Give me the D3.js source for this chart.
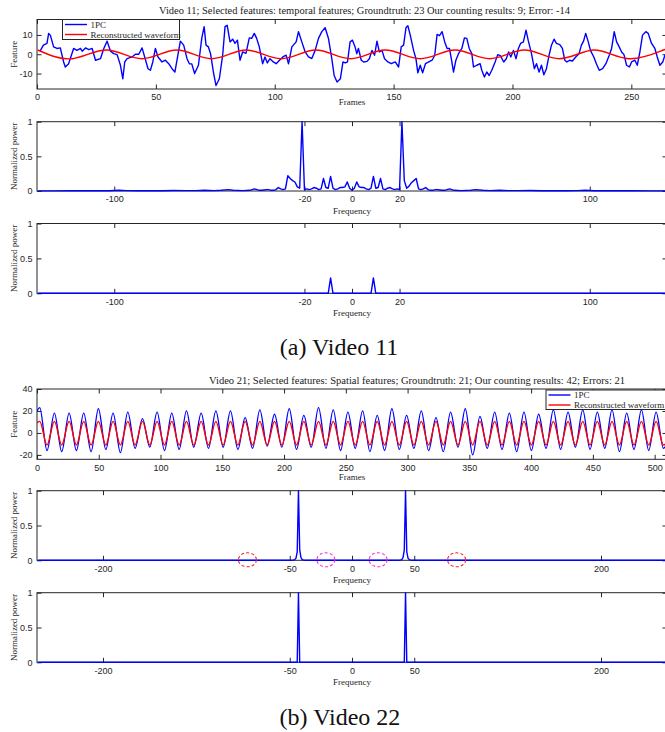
<!DOCTYPE html>
<html>
<head>
<meta charset="utf-8">
<script src="https://cdn.jsdelivr.net/npm/d3@7"></script>
<style>
  body { margin: 0; background: #fff; }
  svg { display: block; font-family: "Liberation Serif", "Times New Roman", serif; }
  .tick text { fill: #262626; font-size: 9px; }
  .tick line { stroke: #262626; }
</style>
</head>
<body>
<script>
// ---------- Video 11 : first principal component (frame, value) ----------
const v11Frames = [1.3, 2.7, 4.2, 4.9, 5.6, 7, 8.4, 9.8, 11.2, 11.9, 13.3, 15.4, 16.8, 18.3, 19, 20.4, 21.8, 23.2, 24.6, 26.7,
  28.1, 29.5, 30.9, 32.3, 33.7, 35.1, 36.1, 36.9, 37.9, 40, 41.4, 42.8, 44.2, 45.3, 46.7, 47.7, 48.7, 49.8, 50.9, 52.6,
  54, 55.4, 56.8, 58, 59, 60.3, 61.7, 63.1, 64.1, 65.1, 66.3, 67.9, 69.3, 70.3, 71.1, 72.1, 73, 74.2, 75.3, 76.7,
  78.1, 79.1, 80, 81.2, 82.3, 83.3, 84.3, 85.4, 86.5, 87.9, 89.3, 90.3, 91.4, 92.4, 93.5, 94.9, 95.9, 96.9, 98, 99.4,
  100.6, 102, 103.4, 104.8, 105.8, 107.2, 109, 110, 111.4, 112.8, 114.2, 115.6, 117, 118.4, 119.8, 121.2, 122.6, 124, 125, 126.2,
  127.6, 128.7, 129.7, 130.6, 131.7, 132.7, 133.8, 134.5, 135.2, 136.4, 137.4, 138.8, 139.8, 140.9, 142, 143, 144, 145.1, 146.2, 147.6,
  149, 150.7, 152.1, 153.2, 154.2, 155.2, 156, 157, 158.4, 159.4, 160.2, 161.2, 162.2, 163.4, 164.8, 166.2, 167.3, 168.3, 169.3, 170.4,
  171.5, 172.5, 173.5, 174.5, 175.2, 176.2, 177.3, 178.7, 179.8, 180.8, 181.8, 182.9, 183.6, 185, 186.4, 187.1, 188.2, 189.2, 190.2, 191.3,
  192.7, 193.8, 194.9, 196.3, 197.4, 198.4, 199.3, 200.4, 201.5, 202.5, 203.4, 204.6, 205.7, 206.6, 208, 209.2, 210.1, 211.2, 212.2, 213.2,
  214.3, 215.4, 216.4, 217.5, 218.5, 219.9, 221, 222, 222.9, 224.1, 225.2, 226.6, 228, 229, 229.9, 230.8, 231.8, 232.8, 234.2, 235.3,
  236.5, 237.9, 239.3, 240.7, 241.7, 242.8, 243.8, 244.9, 245.9, 246.9, 248, 249.2, 250.1, 251.5, 252.5, 253.6, 254.7, 256.1, 257.1, 258.5,
  259.9, 260.9, 262, 263.2, 264.2, 265];
const v11Pc = [1.6, 4.7, 5.6, 10.8, 9.9, 3.8, 3, 3.3, -4, -6.6, -4.9, 3, 2, 3, 1.6, 3.3, 2.4, 3, -3.1, -2.3,
  3, 6.8, 1.6, 0.3, -0.2, -5.7, -12.7, -4, -2.3, -1.4, 0, 0, 3.3, -1.4, -7.5, -8.3, -4, 3, -1.4, -4,
  -3.1, -4.9, -7.5, -9.2, -2.3, 6.8, 4.7, -2.3, -4.9, -5, -10, -5.7, 8.2, 14.3, 4.7, 3.8, 0.3, -9.2, -16.2, -12.7,
  -0.5, 14.3, 15, 6.4, 7.8, 5.6, 7.3, -3.1, 1.2, 0.5, 8.5, 8.2, 10.8, 8.2, 3.8, -4.9, -1.4, -4.5, -2.3, -4,
  -4.9, -3.1, -1.4, -0.5, -4.9, 3.8, 6.4, 11.7, 6.4, 1.2, -1.4, -2.2, 2, 8.2, 11.7, 13.7, 8.2, -2.3, -11, -14.4,
  -12.7, -4, -4.5, -4, 6.4, 7.3, 3.8, 0.3, 3, -3.1, -4, -3.7, -2.3, 2, -0.5, 6.8, 1.2, 2, -2.3, -4,
  -4.9, -4, -6.6, 3.8, 4.7, 13.7, 14.8, 9.9, 2, -2.3, -9.6, -5.7, -9.6, -4.9, -4, -3.1, -0.5, 10.3, 9.6, 11.7,
  6.4, 3, 3, -4, -9.2, -3.1, 0.3, 3, 8.5, 8.2, 3, 0.3, -6.6, -5.7, -4.9, -8.3, -11.8, -9.2, -11, -8.3,
  -4, -0.2, -0.7, -4, -2.3, 1.2, -1.4, 2, -2.3, 3, 5.6, 6.4, 12.5, 7.3, 0.3, -7.5, -4.9, -9.2, -5.7, -10.6,
  -7.5, -0.5, 4.7, 7.8, 5.6, 5, 3, -3.1, -4, -3.1, -3.5, -1.4, 0.3, 4.7, 6.8, 10.8, 6.8, 2, -1.4, -4.9,
  -8.3, -7.5, -4.9, -0.5, 3, 11.7, 6.4, 3.8, 1.2, -0.2, -5.7, -6.6, -4, -3.1, -5.7, 1.2, 9.9, 11.7, 10.8, 5.6,
  3, -1.4, -5.7, -4, -0.2, -3];
// reconstructed waveform, extremes
const v11RecFrames = [0.3, 14.9, 29.5, 44.2, 58.8, 73.4, 88, 102.7, 117.3, 131.9, 146.5, 161.2, 175.8, 190.4, 205, 219.7, 234.3, 248.9, 263.5, 265];
const v11Rec = [2.2, -2.3, 2.2, -2.3, 2.2, -2.3, 2.2, -2.3, 2.2, -2.3, 2.2, -2.3, 2.2, -2.3, 2.2, -2.3, 2.2, -2.3, 2.2, 2.1];

// spectrum of 1PC
const v11Bins = [-132, -125, -118, -112, -107, -102, -98, -95, -90, -85, -80, -75, -70, -66, -62, -58, -55, -52, -50, -46,
  -43, -42, -41, -40, -39, -38, -37, -36, -35, -34, -33, -32, -31, -30, -29, -28, -27, -26, -25, -24, -23, -22, -21,
  -20, -19, -18, -17, -16, -15, -14, -13, -12, -11, -10, -9, -8, -7, -6, -5, -4, -3, -2, -1,
  0, 1, 2, 3, 4, 5, 6, 7, 8, 9, 10, 11, 12, 13, 14, 15, 16, 17, 18, 19, 20,
  21, 22, 23, 24, 25, 26, 27, 28, 29, 30, 31, 32, 33, 34, 35, 36, 37, 38, 39, 40, 41, 42, 43,
  46, 50, 52, 55, 58, 62, 66, 70, 75, 80, 85, 90, 95, 98, 102, 107, 112, 118, 125, 132];
const v11Power = [0.002, 0.002, 0.004, 0.003, 0.006, 0.004, 0.01, 0.006, 0.003, 0.006, 0.003, 0.008, 0.005, 0.005, 0.01, 0.005, 0.01, 0.02, 0.01, 0.005,
  0.01, 0.02, 0.03, 0.02, 0.01, 0.01, 0.015, 0.02, 0.02, 0.01, 0.01, 0.02, 0.05, 0.03, 0.02, 0.03, 0.22, 0.18, 0.15, 0.13, 0.06, 0.04, 1.0,
  0.02, 0.03, 0.02, 0.03, 0.05, 0.04, 0.02, 0.03, 0.18, 0.05, 0.04, 0.21, 0.04, 0.02, 0.03, 0.05, 0.05, 0.06, 0.13, 0.04,
  0.01, 0.04, 0.13, 0.06, 0.05, 0.05, 0.03, 0.02, 0.04, 0.21, 0.04, 0.05, 0.18, 0.03, 0.02, 0.04, 0.05, 0.03, 0.02, 0.03, 0.02,
  1.0, 0.15, 0.04, 0.07, 0.12, 0.15, 0.18, 0.03, 0.02, 0.03, 0.05, 0.02, 0.01, 0.01, 0.02, 0.02, 0.015, 0.01, 0.01, 0.02, 0.03, 0.02, 0.01,
  0.005, 0.01, 0.02, 0.01, 0.005, 0.01, 0.005, 0.005, 0.008, 0.003, 0.006, 0.003, 0.006, 0.01, 0.004, 0.006, 0.003, 0.004, 0.002, 0.002];
// spectrum of reconstructed waveform
const v11RecBins = [-132, -10, -9, -8, 8, 9, 10, 132];
const v11RecPower = [0, 0, 0.22, 0, 0, 0.22, 0, 0];

// ---------- Video 21 : 1PC extremes ----------
const v21PeakFrames = [2.2, 14.1, 26.0, 37.8, 49.7, 61.6, 73.5, 85.4, 97.2, 109.1, 121.0, 132.9, 144.8, 156.6, 168.5,
  180.4, 192.3, 204.2, 216.0, 227.9, 239.8, 251.7, 263.6, 275.4, 287.3, 299.2, 311.1, 323.0, 334.8, 346.7, 358.6,
  370.5, 382.4, 394.2, 406.1, 418.0, 429.9, 441.8, 453.6, 465.5, 477.4, 489.3, 501.2];
const v21TroughFrames = [8.1, 20.0, 31.9, 43.8, 55.7, 67.5, 79.4, 91.3, 103.2, 115.1, 126.9, 138.8, 150.7, 162.6, 174.5,
  186.3, 198.2, 210.1, 222.0, 233.9, 245.7, 257.6, 269.5, 281.4, 293.3, 305.1, 317.0, 328.9, 340.8, 352.7, 364.5,
  376.4, 388.3, 400.2, 412.1, 423.9, 435.8, 447.7, 459.6, 471.5, 483.3, 495.2, 507.1];
const v21PcPeaks = [23, 18, 18, 18, 22, 18, 19, 13, 19, 18, 20, 18, 20, 20, 14, 21, 17, 22, 16, 23, 21, 19, 20, 16,
  22, 16, 20, 14, 19, 22, 15, 19, 18, 19, 17, 21, 19, 21, 19, 21, 18, 21, 19];
const v21PcTroughs = [-16, -17, -16, -17, -15, -18, -14, -13, -16, -15, -13, -14, -13, -15, -14, -12, -13, -15, -13, -14,
  -16, -14, -17, -16, -15, -14, -16, -17, -13, -20, -14, -15, -17, -16, -14, -15, -13, -15, -14, -17, -15, -16, -14];
const v21Ends = [0, 509];
const v21PcEnds = [20, -12];
const v21RecLevels = [10.5, -11];   // peak, trough
const v21RecEnds = [9, -10];

const v21Bins = [-252, -48, -46, -45, -44, -43, -42, -41, -40, -38, 38, 40, 41, 42, 43, 44, 45, 46, 48, 252];
const v21Power = [0, 0, 0.01, 0.03, 0.12, 1, 0.15, 0.04, 0.01, 0, 0, 0.01, 0.04, 0.15, 1, 0.12, 0.03, 0.01, 0, 0];
const v21RecBins = [-252, -44, -43, -42, 42, 43, 44, 252];
const v21RecPower = [0, 0, 1, 0, 0, 1, 0, 0];
const v21Marks = [-84, -21, 21, 84];
const v21MarkColors = ["#ff2020", "#ff30d0", "#ff30d0", "#ff2020"];

// ticks
const framesTicks11 = [0, 50, 100, 150, 200, 250];
const freqTicks11 = [-100, -20, 0, 20, 100];
const framesTicks21 = [0, 50, 100, 150, 200, 250, 300, 350, 400, 450, 500];
const freqTicks21 = [-200, -50, 0, 50, 200];
const featTicks11 = [-10, 0, 10];
const featTicks21 = [-20, 0, 20, 40];
const powerTicks = [0, 0.5, 1];

// ---------- drawing ----------
const W = 665, H = 732;
const L = 37, R = 667, TL = 4.5;
const AX = "#262626";
const svg = d3.select("body").append("svg").attr("width", W).attr("height", H);
let clipN = 0;

function panel(top, bottom, xd, yd, xt, yt, xlab, ylab, xlabY) {
  const x = d3.scaleLinear().domain(xd).range([L, R]);
  const y = d3.scaleLinear().domain(yd).range([bottom, top]);
  const g = svg.append("g");
  const id = "clip" + (clipN++);
  svg.append("clipPath").attr("id", id).append("rect")
    .attr("x", L).attr("y", top - 2).attr("width", R - L).attr("height", bottom - top + 4);

  g.append("g").attr("transform", `translate(0,${bottom})`)
    .call(d3.axisBottom(x).tickValues(xt).tickSizeInner(-TL).tickSizeOuter(0).tickPadding(5).tickFormat(d => String(d)));
  g.append("g").attr("transform", `translate(0,${top})`)
    .call(d3.axisTop(x).tickValues(xt).tickSizeInner(-TL).tickSizeOuter(0).tickFormat(""));
  g.append("g").attr("transform", `translate(${L},0)`)
    .call(d3.axisLeft(y).tickValues(yt).tickSizeInner(-TL).tickSizeOuter(0).tickPadding(4.5).tickFormat(d => String(d)));
  g.append("g").attr("transform", `translate(${R},0)`)
    .call(d3.axisRight(y).tickValues(yt).tickSizeInner(-TL).tickSizeOuter(0).tickFormat(""));
  g.selectAll(".domain").remove();
  g.append("rect").attr("x", L).attr("y", top).attr("width", R - L).attr("height", bottom - top)
    .attr("fill", "none").attr("stroke", AX).attr("stroke-width", 1);

  g.append("text").attr("x", (L + R) / 2).attr("y", xlabY).attr("text-anchor", "middle")
    .attr("font-size", 9).attr("fill", AX).text(xlab);
  g.append("text").attr("transform", `translate(16.5,${(top + bottom) / 2}) rotate(-90)`)
    .attr("text-anchor", "middle").attr("font-size", 9).attr("fill", AX).text(ylab);

  const plot = svg.append("g").attr("clip-path", `url(#${id})`);
  return { x, y, plot };
}

function drawLine(p, xs, ys, color, curve, width) {
  const pts = xs.map((v, i) => [v, ys[i]]);
  p.plot.append("path").datum(pts)
    .attr("fill", "none").attr("stroke", color).attr("stroke-width", width || 1.4)
    .attr("stroke-linejoin", "round")
    .attr("d", d3.line().x(d => p.x(d[0])).y(d => p.y(d[1])).curve(curve || d3.curveLinear));
}

function legend(x0, y0, w, h) {
  const g = svg.append("g");
  g.append("rect").attr("x", x0).attr("y", y0).attr("width", w).attr("height", h)
    .attr("fill", "#fff").attr("stroke", AX).attr("stroke-width", 1);
  [["1PC", "#0000ff"], ["Reconstructed waveform", "#ff0000"]].forEach((d, i) => {
    const ly = y0 + 5 + i * 10;
    g.append("line").attr("x1", x0 + 2.5).attr("x2", x0 + 24.5).attr("y1", ly).attr("y2", ly)
      .attr("stroke", d[1]).attr("stroke-width", 1.4);
    g.append("text").attr("x", x0 + 28).attr("y", ly + 3.3).attr("font-size", 9).attr("fill", AX).text(d[0]);
  });
}

// ---------- (a) Video 11 ----------
svg.append("text").attr("x", 159).attr("y", 13.5).attr("font-size", 10).attr("fill", "#222")
  .attr("textLength", 411).attr("lengthAdjust", "spacingAndGlyphs")
  .text("Video 11; Selected features: temporal features; Groundtruth: 23 Our counting results: 9; Error: -14");

const p1 = panel(19.5, 89, [0, 265], [-18, 18], framesTicks11, featTicks11, "Frames", "Feature", 104.5);
drawLine(p1, v11Frames, v11Pc, "#0000ff", d3.curveLinear, 1.4);
drawLine(p1, v11RecFrames, v11Rec, "#ff0000", d3.curveNatural, 1.4);
legend(62.5, 19.5, 117, 20);

const p2 = panel(121.7, 191, [-132.5, 132.5], [0, 1], freqTicks11, powerTicks, "Frequency", "Normalized power", 213.5);
drawLine(p2, v11Bins, v11Power, "#0000ff");

const p3 = panel(223.5, 293.3, [-132.5, 132.5], [0, 1], freqTicks11, powerTicks, "Frequency", "Normalized power", 315.8);
drawLine(p3, v11RecBins, v11RecPower, "#0000ff");

svg.append("text").attr("x", 339).attr("y", 355).attr("text-anchor", "middle")
  .attr("font-size", 24).attr("fill", "#111").text("(a)  Video 11");

// ---------- (b) Video 22 ----------
svg.append("text").attr("x", 209).attr("y", 383.5).attr("font-size", 10).attr("fill", "#222")
  .attr("textLength", 416).attr("lengthAdjust", "spacingAndGlyphs")
  .text("Video 21; Selected features: Spatial features;  Groundtruth: 21; Our counting results: 42; Errors: 21");

// extremes merged in frame order
const v21Pts = [];
v21Ends.forEach((f, i) => v21Pts.push({ f, pc: v21PcEnds[i], rec: v21RecEnds[i] }));
v21PeakFrames.forEach((f, i) => v21Pts.push({ f, pc: v21PcPeaks[i], rec: v21RecLevels[0] }));
v21TroughFrames.forEach((f, i) => v21Pts.push({ f, pc: v21PcTroughs[i], rec: v21RecLevels[1] }));
v21Pts.sort((a, b) => a.f - b.f);

const p4 = panel(389, 459.3, [0, 510], [-24, 40], framesTicks21, featTicks21, "Frames", "Feature", 480);
drawLine(p4, v21Pts.map(d => d.f), v21Pts.map(d => d.pc), "#0000ff", d3.curveMonotoneX, 1.3);
drawLine(p4, v21Pts.map(d => d.f), v21Pts.map(d => d.rec), "#ff0000", d3.curveMonotoneX, 1.4);
legend(546, 390, 125, 19.5);

const p5 = panel(490.7, 560.3, [-253, 253], [0, 1], freqTicks21, powerTicks, "Frequency", "Normalized power", 582.5);
drawLine(p5, v21Bins, v21Power, "#0000ff");
svg.append("g").selectAll("ellipse").data(v21Marks).join("ellipse")
  .attr("cx", d => p5.x(d)).attr("cy", p5.y(0) - 0.5).attr("rx", 9).attr("ry", 7)
  .attr("fill", "none").attr("stroke", (d, i) => v21MarkColors[i]).attr("stroke-width", 1.1)
  .attr("stroke-dasharray", "3,2.2");

const p6 = panel(592.7, 662.3, [-253, 253], [0, 1], freqTicks21, powerTicks, "Frequency", "Normalized power", 684.5);
drawLine(p6, v21RecBins, v21RecPower, "#0000ff");

svg.append("text").attr("x", 340).attr("y", 725).attr("text-anchor", "middle")
  .attr("font-size", 24).attr("fill", "#111").text("(b)  Video 22");
</script>
</body>
</html>
